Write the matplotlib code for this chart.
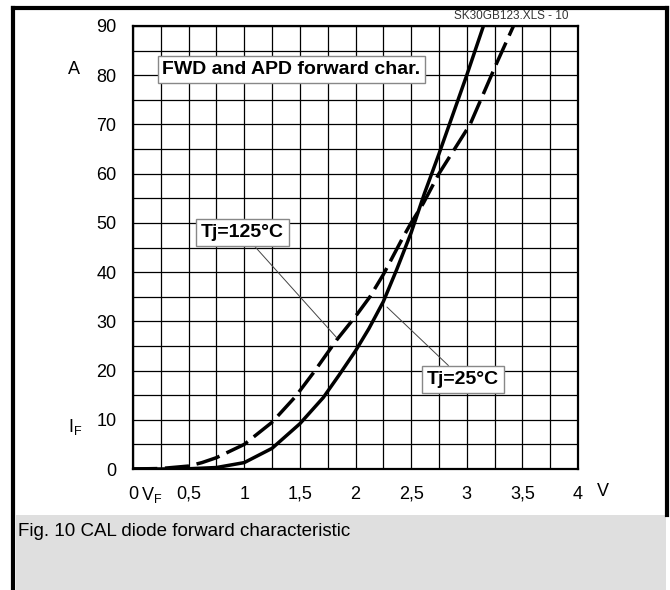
import numpy as np
import matplotlib
matplotlib.use("Agg")
import matplotlib.pyplot as plt
from matplotlib.patches import Rectangle
from matplotlib.lines import Line2D

plt.rcParams["font.family"] = ["Liberation Sans", "DejaVu Sans"]
plt.rcParams["mathtext.fontset"] = "custom"
plt.rcParams["mathtext.rm"] = "Liberation Sans"

# ── Data ────────────────────────────────────────────────────────
vf_25 = [0, 0.25, 0.5, 0.75, 1.0, 1.25, 1.5, 1.71, 1.85, 2.0, 2.12, 2.25, 2.37, 2.5,
         2.62, 2.75, 3.0, 3.15]
if_25 = [0, 0, 0.05, 0.3, 1.3, 4.2, 9.2, 14.5, 19, 24, 28.5, 34, 40.5, 48,
         56, 64, 80, 90]

vf_125 = [0, 0.25, 0.5, 0.62, 0.75, 1.0, 1.25, 1.46, 1.62, 1.83, 2.0, 2.13, 2.25,
          2.43, 2.5, 2.61, 2.75, 3.03, 3.27, 3.42]
if_125 = [0, 0.1, 0.6, 1.3, 2.3, 5.0, 9.5, 14.7, 19.5, 26.2, 31, 35, 39.5,
          47.2, 50, 54, 60, 70, 82.5, 90]

x_ticks = [0, 0.5, 1, 1.5, 2, 2.5, 3, 3.5, 4]
x_labels = ["0", "0,5", "1", "1,5", "2", "2,5", "3", "3,5", "4"]
y_ticks = [0, 10, 20, 30, 40, 50, 60, 70, 80, 90]

fig = plt.figure(figsize=(6.7, 5.9), dpi=100)
ax = fig.add_axes([133 / 670, 121 / 590, 445 / 670, 443 / 590])

# ── Curves ───────────────────────────────────────────────────────
ax.plot(vf_25, if_25, color="black", lw=2.5, solid_capstyle="butt",
        solid_joinstyle="round", zorder=3)
ax.plot(vf_125, if_125, color="black", lw=2.5, linestyle=(0, (7, 2.2)),
        dash_capstyle="butt", dash_joinstyle="round", zorder=3)

# ── Axes / grid ──────────────────────────────────────────────────
ax.set_xlim(0, 4)
ax.set_ylim(0, 90)
ax.set_xticks(x_ticks)
ax.set_xticklabels(x_labels)
ax.set_yticks(y_ticks)
ax.set_xticks(np.arange(0, 4.01, 0.25), minor=True)
ax.set_yticks(np.arange(0, 90.1, 5), minor=True)
ax.grid(True, which="both", color="black", lw=0.9)
ax.set_axisbelow(True)
ax.tick_params(which="both", length=0)
ax.tick_params(axis="x", pad=12, labelsize=13)
ax.tick_params(axis="y", pad=12, labelsize=13)
for sp in ax.spines.values():
    sp.set_linewidth(1.6)

# unit labels
ax.text(1.056, -0.05, "V", transform=ax.transAxes, fontsize=13,
        ha="center", va="center")
ax.text(0.165, -0.058, r"V$_\mathrm{F}$", fontsize=13, ha="center", va="center",
        transform=ax.get_xaxis_transform())
fig.text(74 / 670, 1 - 69 / 590, "A", fontsize=13, ha="center", va="center")
fig.text(75 / 670, 1 - 427 / 590, r"I$_\mathrm{F}$", fontsize=13,
         ha="center", va="center")

# ── Annotation boxes ─────────────────────────────────────────────
box = dict(boxstyle="square,pad=0.25", fc="white", ec="#888888", lw=1)
ax.text(1.425, 81.1, "FWD and APD forward char.", fontsize=14,
        fontweight="bold", ha="center", va="center", bbox=box, zorder=5)
ax.annotate("Tj=125°C", xy=(1.834, 26.6), xytext=(0.984, 48.0),
            fontsize=14, fontweight="bold", ha="center", va="center",
            bbox=box, zorder=5,
            arrowprops=dict(arrowstyle="-", color="#444444", lw=0.7,
                            shrinkA=0, shrinkB=0))
ax.annotate("Tj=25°C", xy=(2.283, 32.9), xytext=(2.966, 18.2),
            fontsize=14, fontweight="bold", ha="center", va="center",
            bbox=box, zorder=5,
            arrowprops=dict(arrowstyle="-", color="#444444", lw=0.7,
                            shrinkA=0, shrinkB=0))

fig.text(568 / 670, 1 - 16 / 590, "SK30GB123.XLS - 10", fontsize=8.5,
         color="#333333", ha="right", va="center")

# ── Frame and caption strip ──────────────────────────────────────
fig.add_artist(Rectangle((16 / 670, 0), 650 / 670, 75 / 590,
                         transform=fig.transFigure, fc="#dfdfdf", ec="none"))
fig.add_artist(Line2D([13 / 670, 13 / 670], [0, 1 - 8 / 590],
                      transform=fig.transFigure, color="black", lw=3))
fig.add_artist(Line2D([13 / 670, 667 / 670], [1 - 8 / 590, 1 - 8 / 590],
                      transform=fig.transFigure, color="black", lw=3))
fig.add_artist(Line2D([667 / 670, 667 / 670], [75 / 590, 1 - 8 / 590],
                      transform=fig.transFigure, color="black", lw=3))
fig.text(18 / 670, 1 - 532 / 590, "Fig. 10 CAL diode forward characteristic",
         fontsize=13.5, ha="left", va="center")

fig.savefig("out.png", dpi=100)
